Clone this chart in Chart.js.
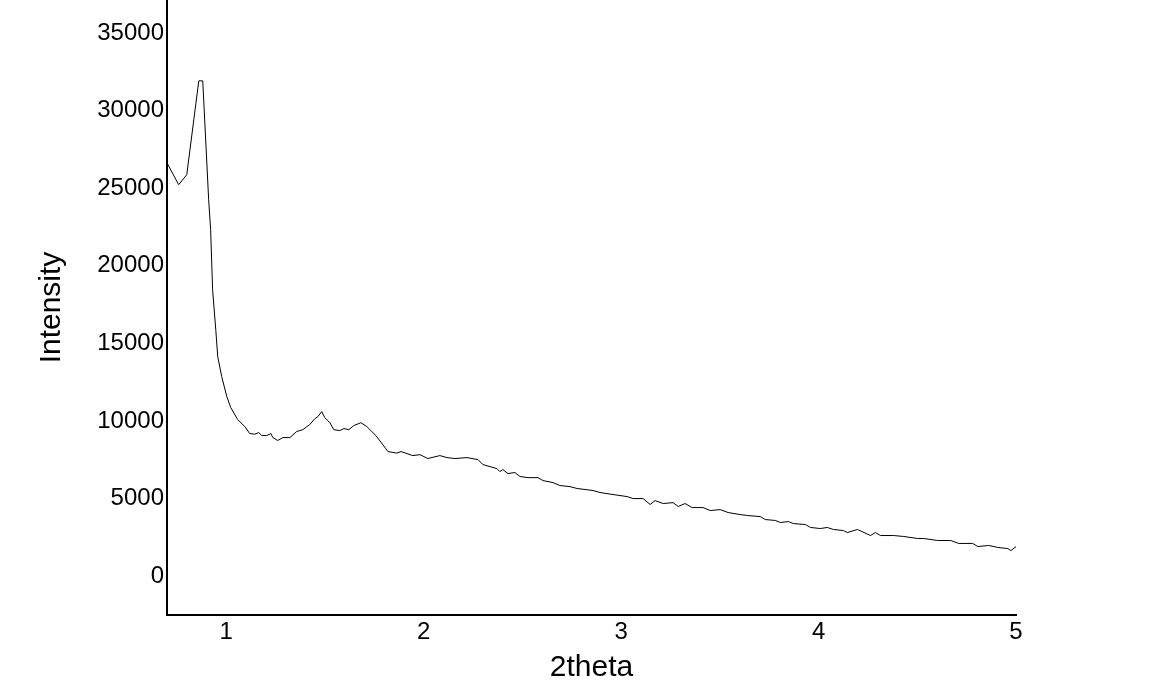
<!DOCTYPE html>
<html>
<head>
<meta charset="utf-8">
<script src="https://cdn.jsdelivr.net/npm/chart.js@4"></script>
<style>
html,body{margin:0;padding:0;background:#fff;}
#wrap{width:1162px;height:695px;}
</style>
</head>
<body>
<div id="wrap"><canvas id="c" width="1162" height="695"></canvas></div>
<script>
const twoTheta = [0.700,0.759,0.800,0.861,0.881,0.911,0.921,0.931,0.947,0.957,0.977,1.003,1.023,1.058,1.094,1.119,1.144,1.165,1.180,1.205,1.226,1.236,1.261,1.287,1.322,1.357,1.388,1.423,1.449,1.464,1.484,1.499,1.525,1.545,1.575,1.596,1.621,1.646,1.682,1.712,1.758,1.808,1.819,1.864,1.885,1.945,1.981,2.021,2.082,2.118,2.158,2.219,2.275,2.300,2.336,2.371,2.386,2.401,2.427,2.462,2.488,2.528,2.579,2.604,2.655,2.690,2.741,2.777,2.858,2.893,2.959,3.030,3.061,3.111,3.147,3.172,3.213,3.263,3.289,3.324,3.360,3.415,3.451,3.502,3.542,3.603,3.639,3.705,3.730,3.781,3.806,3.847,3.872,3.933,3.959,4.009,4.044,4.075,4.126,4.146,4.197,4.263,4.288,4.314,4.380,4.430,4.501,4.532,4.603,4.669,4.710,4.781,4.806,4.862,4.908,4.959,4.974,5.000];
const intensity = [26630,25220,25860,31910,31910,24250,22320,18460,15880,14140,12860,11570,10860,10090,9640,9190,9150,9250,9060,9060,9190,8930,8740,8930,8930,9320,9440,9770,10150,10280,10600,10220,9890,9440,9380,9510,9440,9700,9890,9640,9060,8220,8030,7930,8030,7770,7830,7580,7770,7640,7580,7640,7510,7190,7060,6930,6740,6870,6610,6680,6420,6350,6350,6160,6030,5840,5770,5650,5520,5390,5260,5130,5000,5000,4620,4870,4680,4740,4490,4680,4420,4420,4230,4290,4100,3970,3910,3840,3650,3590,3460,3520,3390,3330,3140,3070,3140,3010,2940,2810,3010,2620,2810,2620,2620,2560,2430,2430,2300,2300,2110,2110,1910,1980,1850,1780,1650,1900];
const xTickValues = [1,2,3,4,5];
const yTickValues = [0,5000,10000,15000,20000,25000,30000,35000];
const xTitle = '2theta';
const yTitle = 'Intensity';

const points = twoTheta.map((x,i)=>({x:x, y:intensity[i]}));
const FONT = '"Liberation Sans", Arial, sans-serif';

new Chart(document.getElementById('c'), {
  type: 'line',
  data: { datasets: [{ data: points, borderColor:'#000', borderWidth:1, pointRadius:0, tension:0, fill:false }] },
  options: {
    responsive:false, animation:false, devicePixelRatio:1,
    layout:{ padding:{left:0, right:146, top:0, bottom:0} },
    plugins:{ legend:{display:false}, tooltip:{enabled:false} },
    scales:{
      x:{
        type:'linear', min:0.7, max:5,
        afterBuildTicks:(s)=>{ s.ticks = xTickValues.map(v=>({value:v})); },
        afterFit:(s)=>{ s.height = 80; s.paddingLeft = 0; s.paddingRight = 0; },
        grid:{display:false, drawTicks:false},
        border:{display:true, color:'#000', width:2},
        ticks:{ color:'#000', font:{family:FONT, size:24}, padding:3, maxRotation:0, autoSkip:false },
        title:{ display:true, text:xTitle, color:'#000', font:{family:FONT, size:30}, padding:{top:0,bottom:9} }
      },
      y:{
        type:'linear', min:-2500, max:37120,
        afterBuildTicks:(s)=>{ s.ticks = yTickValues.map(v=>({value:v})); },
        afterFit:(s)=>{ s.width = 167; s.paddingTop = 0; s.paddingBottom = 0; },
        grid:{display:false, drawTicks:false},
        border:{display:true, color:'#000', width:2},
        ticks:{ color:'#000', font:{family:FONT, size:24}, padding:3, autoSkip:false, callback:(v)=>String(v) },
        title:{ display:true, text:yTitle, color:'#000', font:{family:FONT, size:30}, padding:{top:34,bottom:0} }
      }
    }
  }
});
</script>
</body>
</html>
